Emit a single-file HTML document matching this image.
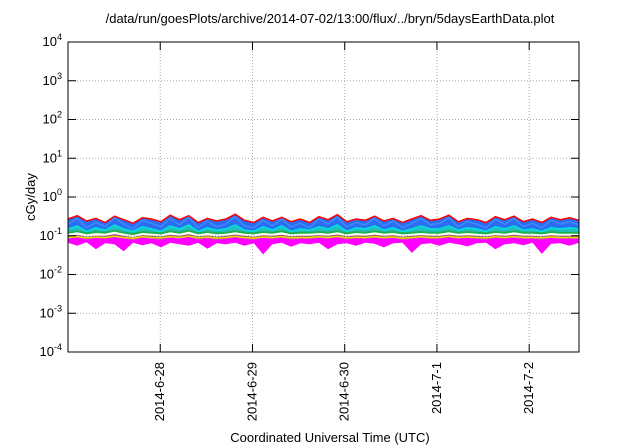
<!DOCTYPE html>
<html><head><meta charset="utf-8"><style>
body{margin:0;background:#fff;}
svg{display:block;font-family:"Liberation Sans",sans-serif;}
</style></head><body>
<svg id="chart" width="640" height="448" viewBox="0 0 640 448">
<text x="330" y="23" font-size="13" text-anchor="middle">/data/run/goesPlots/archive/2014-07-02/13:00/flux/../bryn/5daysEarthData.plot</text>
<text x="330" y="442" font-size="13" text-anchor="middle">Coordinated Universal Time (UTC)</text>
<text transform="translate(35,197) rotate(-90)" font-size="13" text-anchor="middle">cGy/day</text>
<g id="grid"></g>
<g id="series"></g>
<rect x="68" y="42" width="511" height="310" fill="none" stroke="#000" stroke-width="1"/>
<g id="axes"></g>
</svg>
<script>
const yTickExps=[-4,-3,-2,-1,0,1,2,3,4];
const xTickLabels=["2014-6-28","2014-6-29","2014-6-30","2014-7-1","2014-7-2"];
const xTickDays=[1,2,3,4,5];
const red=[0.27,0.33,0.24,0.28,0.22,0.32,0.26,0.21,0.29,0.27,0.23,0.34,0.26,0.33,0.22,0.28,0.24,0.27,0.36,0.25,0.22,0.3,0.24,0.3,0.23,0.27,0.22,0.31,0.26,0.35,0.23,0.27,0.25,0.32,0.24,0.28,0.22,0.27,0.33,0.25,0.27,0.34,0.23,0.28,0.26,0.22,0.31,0.26,0.32,0.23,0.27,0.22,0.3,0.26,0.29,0.25];
const blue=[0.2,0.28,0.16,0.22,0.17,0.29,0.2,0.15,0.25,0.21,0.17,0.28,0.19,0.3,0.16,0.24,0.17,0.2,0.31,0.18,0.16,0.25,0.18,0.27,0.17,0.21,0.16,0.27,0.2,0.3,0.17,0.22,0.19,0.28,0.18,0.24,0.16,0.21,0.28,0.19,0.21,0.29,0.17,0.23,0.2,0.16,0.27,0.2,0.28,0.17,0.21,0.16,0.25,0.2,0.23,0.19];
const cyan=[0.15,0.18,0.13,0.16,0.14,0.19,0.15,0.13,0.17,0.15,0.13,0.18,0.15,0.19,0.13,0.16,0.14,0.15,0.19,0.14,0.13,0.17,0.14,0.18,0.13,0.15,0.14,0.17,0.15,0.19,0.13,0.16,0.15,0.18,0.14,0.16,0.13,0.15,0.18,0.15,0.15,0.18,0.14,0.16,0.15,0.13,0.17,0.15,0.18,0.14,0.15,0.13,0.16,0.15,0.16,0.15];
const green=[0.12,0.13,0.115,0.125,0.12,0.135,0.12,0.11,0.125,0.12,0.115,0.13,0.12,0.135,0.115,0.125,0.115,0.12,0.13,0.12,0.115,0.125,0.12,0.13,0.115,0.12,0.12,0.125,0.12,0.13,0.115,0.125,0.12,0.13,0.12,0.125,0.115,0.12,0.125,0.12,0.12,0.13,0.12,0.125,0.12,0.115,0.125,0.12,0.13,0.12,0.12,0.115,0.125,0.12,0.12,0.12];
const brown=[0.1,0.105,0.095,0.1,0.1,0.11,0.1,0.093,0.104,0.1,0.096,0.106,0.1,0.11,0.096,0.102,0.095,0.1,0.107,0.1,0.095,0.103,0.1,0.106,0.096,0.1,0.1,0.104,0.1,0.108,0.096,0.102,0.1,0.106,0.1,0.103,0.095,0.1,0.104,0.1,0.1,0.107,0.1,0.103,0.1,0.096,0.104,0.1,0.106,0.1,0.1,0.096,0.103,0.1,0.1,0.1];
const yellow=[0.09,0.095,0.088,0.092,0.09,0.097,0.09,0.086,0.094,0.09,0.088,0.095,0.09,0.098,0.088,0.093,0.087,0.09,0.096,0.09,0.087,0.093,0.09,0.095,0.088,0.09,0.09,0.094,0.09,0.096,0.088,0.092,0.09,0.095,0.09,0.093,0.087,0.09,0.094,0.09,0.09,0.096,0.09,0.093,0.09,0.088,0.094,0.09,0.095,0.09,0.09,0.088,0.093,0.09,0.09,0.09];
const magTop=[0.085,0.09,0.08,0.088,0.084,0.092,0.085,0.078,0.09,0.084,0.08,0.09,0.085,0.093,0.08,0.087,0.079,0.084,0.091,0.084,0.079,0.088,0.084,0.09,0.08,0.085,0.083,0.089,0.084,0.092,0.08,0.087,0.083,0.09,0.084,0.088,0.079,0.084,0.089,0.083,0.085,0.091,0.083,0.088,0.084,0.08,0.089,0.084,0.09,0.083,0.085,0.08,0.088,0.084,0.085,0.083];
const magLow=[0.066,0.055,0.068,0.045,0.064,0.06,0.04,0.066,0.057,0.064,0.05,0.066,0.06,0.055,0.066,0.046,0.064,0.06,0.066,0.055,0.064,0.033,0.06,0.066,0.052,0.064,0.06,0.066,0.045,0.06,0.064,0.055,0.066,0.062,0.05,0.064,0.066,0.036,0.06,0.064,0.055,0.066,0.06,0.053,0.064,0.066,0.045,0.06,0.064,0.057,0.066,0.034,0.062,0.064,0.055,0.066];
const L=68,R=579,T=42,B=352,DAYS=5.54;
const ns="http://www.w3.org/2000/svg";
function sx(d){return L+(R-L)*d/DAYS;}
function sy(v){return B-(Math.log10(v)+4)/8*(B-T);}
function ix(i,n){return sx(DAYS*i/(n-1));}
function mk(tag,attrs,parent){const e=document.createElementNS(ns,tag);for(const k in attrs)e.setAttribute(k,attrs[k]);parent.appendChild(e);return e;}
const grid=document.getElementById('grid'),axes=document.getElementById('axes'),sg=document.getElementById('series');
yTickExps.forEach(p=>{
 const y=B-(p+4)/8*(B-T);
 if(p>-4&&p<4){const g=mk('line',{x1:L,x2:R,y1:y,y2:y,stroke:'#aaa','stroke-dasharray':'1,2'},grid);
 
 }
 const t1=mk('line',{x1:L,x2:L+8,y1:y,y2:y,stroke:'#000'},axes);
 
 
 const t2=mk('line',{x1:R-8,x2:R,y1:y,y2:y,stroke:'#000'},axes);
 
 
 const tx=mk('text',{x:L-6,y:y+4,'font-size':'13','text-anchor':'end'},axes);
 
 
 tx.innerHTML='10<tspan dy="-6" font-size="9">'+p+'</tspan>';
});
xTickDays.forEach((d,i)=>{
 const x=sx(d);
 const g=mk('line',{x1:x,x2:x,y1:T,y2:B,stroke:'#aaa','stroke-dasharray':'1,2'},grid);
 
 
 const t=mk('line',{x1:x,x2:x,y1:B-8,y2:B,stroke:'#000'},axes);
 
 
 const t2=mk('line',{x1:x,x2:x,y1:T,y2:T+8,stroke:'#000'},axes);
 
 
 const tx=mk('text',{transform:`translate(${x+4},${B+10}) rotate(-90)`,'font-size':'13','text-anchor':'end'},axes);
 
 
 tx.textContent=xTickLabels[i];
});
function pts(a){return a.map((v,i)=>ix(i,a.length).toFixed(1)+','+sy(v).toFixed(1));}
function band(top,low,color,name){
 const p=mk('polygon',{points:pts(top).concat(pts(low).reverse()).join(' '),fill:color},sg);
 
 
}
function line(a,color,w,name){
 const p=mk('polyline',{points:pts(a).join(' '),fill:'none',stroke:color,'stroke-width':w},sg);
 
 
}
band(red,cyan,'#2b6cf0','blue-band');
line(red,'#ff0000',1.5,'red-series');
line(blue,'#3c8cff',1.5,'blue-series');
band(cyan,green,'#20c0c0','cyan-band');
line(cyan,'#00e0e0',1.5,'cyan-series');
line(green,'#20b050',2,'green-series');
band(brown,magTop,'#a05070','brown-band');
line(yellow,'#e8e000',1.5,'yellow-series');
band(magTop,magLow,'#ff00ff','magenta-band');
</script>
</body></html>
